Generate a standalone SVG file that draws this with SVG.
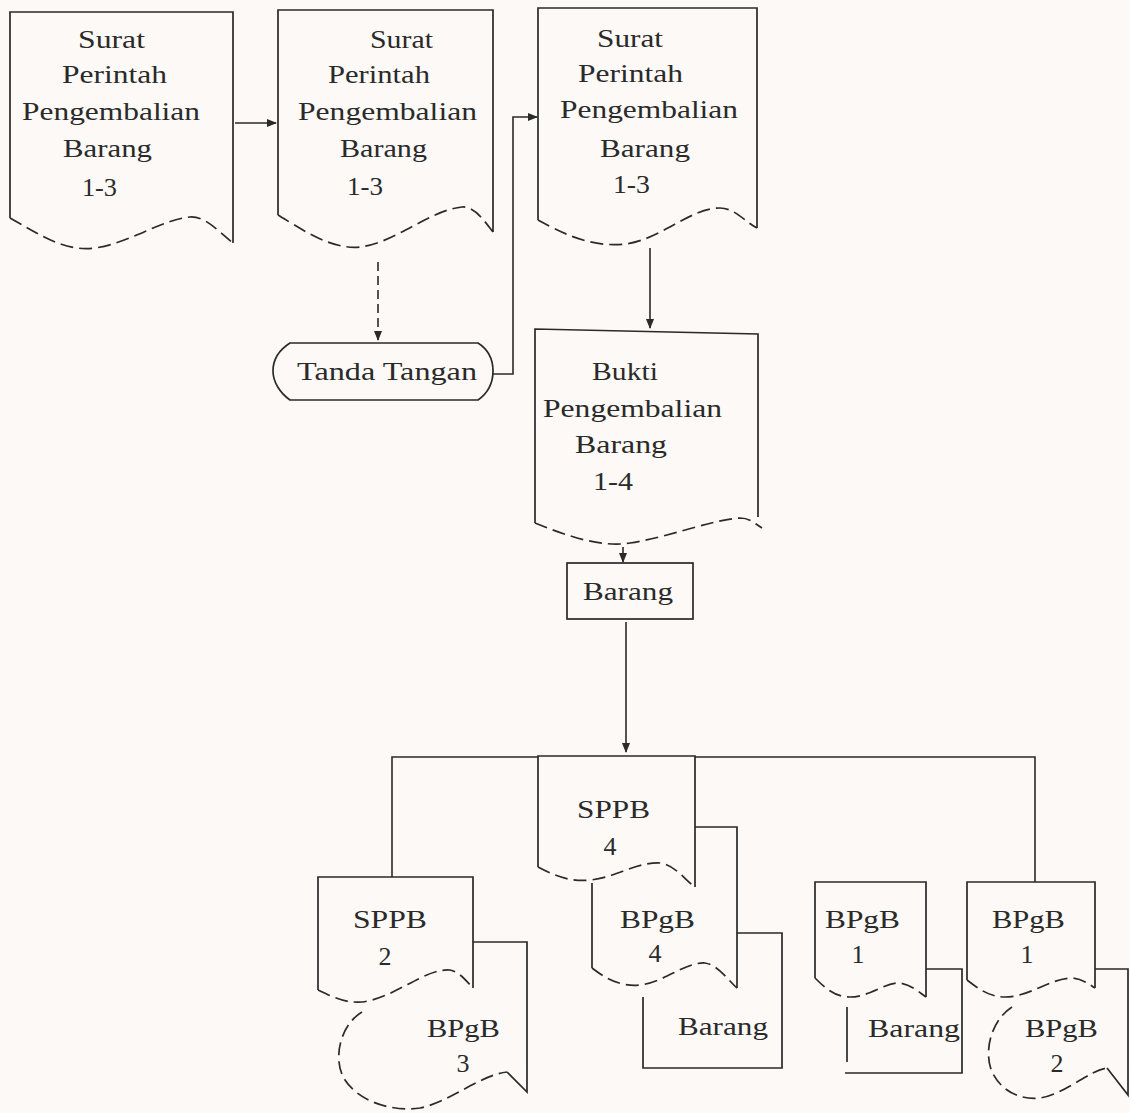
<svg xmlns="http://www.w3.org/2000/svg" width="1130" height="1113" viewBox="0 0 1130 1113">
<defs>
<marker id="ah" viewBox="0 0 10 10" refX="9" refY="5" markerWidth="10" markerHeight="10" markerUnits="userSpaceOnUse" orient="auto">
<path d="M0,1 L10,5 L0,9 Z" fill="#2a2a2a"/>
</marker>
<style>
.s{fill:none;stroke:#2a2a2a;stroke-width:1.7;stroke-linejoin:miter}
.d{fill:none;stroke:#2a2a2a;stroke-width:1.7;stroke-dasharray:13 6}
.c{fill:none;stroke:#2a2a2a;stroke-width:1.6}
.cd{fill:none;stroke:#2a2a2a;stroke-width:1.6;stroke-dasharray:9 5}
text{font-family:"Liberation Serif","Times New Roman",serif;font-size:26px;fill:#2a2a2a}
.m{text-anchor:middle}
</style>
</defs>
<rect x="0" y="0" width="1130" height="1113" fill="#fcf9f6"/>

<g id="doc1">
<path class="s" d="M10,218 L10,12 L233,12 L233,243"/>
<path class="d" d="M10,218 C40,235 65,252 95,248 C130,243 160,220 190,217 C205,216 217,230 233,243"/>
<text x="78" y="48" textLength="67" lengthAdjust="spacingAndGlyphs">Surat</text>
<text x="62" y="83" textLength="105" lengthAdjust="spacingAndGlyphs">Perintah</text>
<text x="22" y="120" textLength="178" lengthAdjust="spacingAndGlyphs">Pengembalian</text>
<text x="63" y="157" textLength="89" lengthAdjust="spacingAndGlyphs">Barang</text>
<text x="82" y="196" textLength="35" lengthAdjust="spacingAndGlyphs">1-3</text>
</g>

<g id="doc2">
<path class="s" d="M278,215 L278,10 L493,10 L493,232"/>
<path class="d" d="M278,215 C300,228 330,250 360,247 C395,243 430,210 462,207 C475,206 485,222 493,232"/>
<text x="370" y="48" textLength="63" lengthAdjust="spacingAndGlyphs">Surat</text>
<text x="328" y="83" textLength="102" lengthAdjust="spacingAndGlyphs">Perintah</text>
<text x="298" y="120" textLength="179" lengthAdjust="spacingAndGlyphs">Pengembalian</text>
<text x="340" y="157" textLength="87" lengthAdjust="spacingAndGlyphs">Barang</text>
<text x="347" y="195" textLength="36" lengthAdjust="spacingAndGlyphs">1-3</text>
</g>

<g id="doc3">
<path class="s" d="M538,220 L538,8 L757,8 L757,228"/>
<path class="d" d="M538,220 C560,232 590,248 625,244 C660,240 690,208 720,208 C735,208 745,222 757,228"/>
<text x="597" y="47" textLength="66" lengthAdjust="spacingAndGlyphs">Surat</text>
<text x="578" y="82" textLength="105" lengthAdjust="spacingAndGlyphs">Perintah</text>
<text x="560" y="118" textLength="178" lengthAdjust="spacingAndGlyphs">Pengembalian</text>
<text x="600" y="157" textLength="90" lengthAdjust="spacingAndGlyphs">Barang</text>
<text x="613" y="193" textLength="37" lengthAdjust="spacingAndGlyphs">1-3</text>
</g>

<g id="tanda">
<path class="s" d="M290,343 L478,343 C489,350 493,361 493,371 C493,382 488,393 478,400 L290,400 C280,393 273,382 273,371 C273,360 279,350 290,343 Z"/>
<text x="297" y="380" textLength="180" lengthAdjust="spacingAndGlyphs">Tanda Tangan</text>
</g>

<g id="bukti">
<path class="s" d="M535,523 L535,329 L758,334 L758,517"/>
<path class="d" d="M535,523 C565,535 600,548 630,543 C670,537 710,520 740,518 C750,518 755,524 762,528"/>
<text x="592" y="380" textLength="66" lengthAdjust="spacingAndGlyphs">Bukti</text>
<text x="543" y="417" textLength="179" lengthAdjust="spacingAndGlyphs">Pengembalian</text>
<text x="575" y="453" textLength="92" lengthAdjust="spacingAndGlyphs">Barang</text>
<text x="593" y="490" textLength="40" lengthAdjust="spacingAndGlyphs">1-4</text>
</g>

<g id="barang-box">
<rect class="s" x="567" y="563" width="126" height="56"/>
<text x="583" y="600" textLength="90" lengthAdjust="spacingAndGlyphs">Barang</text>
</g>

<g id="bpgb3">
<path class="s" d="M473,942 L527,942 L527,1092 L507,1072"/>
<path class="d" d="M362,1012 C340,1025 332,1060 345,1080 C360,1103 395,1112 420,1108 C450,1102 480,1075 507,1072"/>
<text x="427" y="1037" textLength="73" lengthAdjust="spacingAndGlyphs">BPgB</text>
<text class="m" x="463" y="1072">3</text>
</g>

<g id="sppb2">
<path class="s" d="M318,990 L318,877 L473,877 L473,988"/>
<path class="d" d="M318,990 C335,998 345,1003 362,1002 C395,998 425,968 450,970 C460,972 467,982 473,988"/>
<text x="353" y="928" textLength="74" lengthAdjust="spacingAndGlyphs">SPPB</text>
<text class="m" x="385" y="965">2</text>
</g>

<g id="barang-mid">
<path class="s" d="M737,933 L782,933 L782,1068 L643,1068 L643,997"/>
<text x="678" y="1035" textLength="90" lengthAdjust="spacingAndGlyphs">Barang</text>
</g>

<g id="bpgb4">
<path class="s" d="M695,827 L737,827 L737,988"/>
<path class="s" d="M592,883 L592,968"/>
<path class="d" d="M592,968 C605,978 620,987 640,985 C665,982 685,962 705,963 C718,965 728,980 737,988"/>
<text x="620" y="928" textLength="75" lengthAdjust="spacingAndGlyphs">BPgB</text>
<text class="m" x="655" y="962">4</text>
</g>

<g id="sppb4">
<path class="s" d="M538,867 L538,756 L695,756 L695,887" stroke-width="2.4"/>
<path class="d" d="M538,867 C555,876 570,882 590,880 C615,878 635,862 660,863 C675,865 685,880 695,887"/>
<text x="577" y="818" textLength="73" lengthAdjust="spacingAndGlyphs">SPPB</text>
<text class="m" x="610" y="855">4</text>
</g>

<g id="barang-right">
<path class="s" d="M926,969 L962,969 L962,1073 L845,1073"/>
<path class="s" d="M847,1007 L847,1062"/>
<text x="868" y="1037" textLength="92" lengthAdjust="spacingAndGlyphs">Barang</text>
</g>

<g id="bpgb1-left">
<path class="s" d="M815,978 L815,882 L926,882 L926,997"/>
<path class="d" d="M815,978 C825,988 835,997 850,997 C870,997 885,982 900,983 C912,985 920,993 926,997"/>
<text x="825" y="928" textLength="75" lengthAdjust="spacingAndGlyphs">BPgB</text>
<text class="m" x="858" y="963">1</text>
</g>

<g id="bpgb2">
<path class="s" d="M1095,969 L1128,969 L1128,1095 L1107,1068"/>
<path class="d" d="M1012,1007 C992,1020 983,1050 992,1072 C1002,1092 1020,1100 1040,1098 C1065,1094 1090,1070 1107,1068"/>
<text x="1025" y="1037" textLength="73" lengthAdjust="spacingAndGlyphs">BPgB</text>
<text class="m" x="1057" y="1072">2</text>
</g>

<g id="bpgb1-right">
<path class="s" d="M967,980 L967,882 L1095,882 L1095,988"/>
<path class="d" d="M967,980 C980,990 990,997 1005,997 C1030,997 1050,978 1073,978 C1083,979 1090,985 1095,988"/>
<text x="992" y="928" textLength="73" lengthAdjust="spacingAndGlyphs">BPgB</text>
<text class="m" x="1027" y="963">1</text>
</g>

<g id="connectors">
<path class="c" d="M235,123 L276,123" marker-end="url(#ah)"/>
<path class="cd" d="M378,262 L378,340" marker-end="url(#ah)"/>
<path class="c" d="M493,374 L513,374 L513,117 L537,117" marker-end="url(#ah)"/>
<path class="c" d="M650,248 L650,328" marker-end="url(#ah)"/>
<path class="c" d="M623,547 L623,562" marker-end="url(#ah)"/>
<path class="c" d="M626,622 L626,752" marker-end="url(#ah)"/>
<path class="c" d="M392,877 L392,757 L538,757"/>
<path class="c" d="M695,757 L1035,757 L1035,882"/>
</g>
</svg>
